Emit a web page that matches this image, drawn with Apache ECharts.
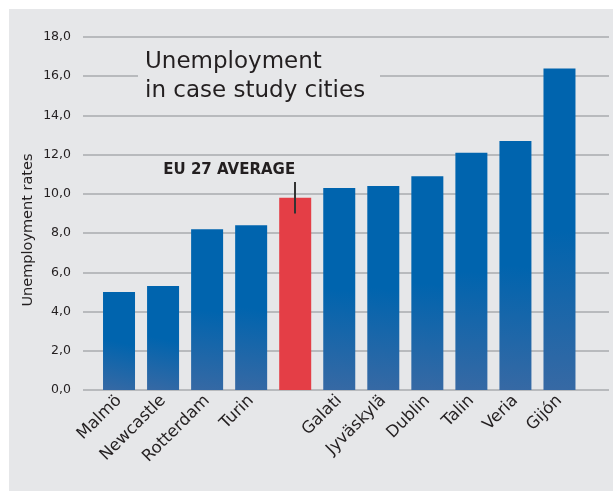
<!DOCTYPE html>
<html>
<head>
<meta charset="utf-8">
<script src="https://cdn.jsdelivr.net/npm/echarts@6/dist/echarts.min.js"></script>
<style>
html,body{margin:0;padding:0;background:#ffffff;}
#c{width:613px;height:491px;}
</style>
</head>
<body>
<div id="c"></div>
<script>
const categories = ['Malmö','Newcastle','Rotterdam','Turin','','Galati','Jyväskylä','Dublin','Talin','Veria','Gijón'];
const values = [5.0, 5.3, 8.2, 8.4, 9.8, 10.3, 10.4, 10.9, 12.1, 12.7, 16.4];
const highlightIndex = 4;
const highlightLabel = 'EU 27 AVERAGE';
const highlightTick = [10.6, 9.0];
const yMin = 0, yMax = 18, yStep = 2;
const titleLines = ['Unemployment', 'in case study cities'];
const yTitle = 'Unemployment rates';

const FONT = '"DejaVu Sans", "Noto Sans", sans-serif';
const TXT = '#231f20';
const BG = '#e6e7e9';

const blueGrad = new echarts.graphic.LinearGradient(0, 1, 0.7, 0, [
  {offset: 0, color: '#3769a4'},
  {offset: 0.5, color: '#0064ae'},
  {offset: 1, color: '#0064ae'}
]);

const chart = echarts.init(document.getElementById('c'), null, {renderer: 'canvas'});
chart.setOption({
  animation: false,
  backgroundColor: '#ffffff',
  graphic: [
    {type: 'rect', z: -10, shape: {x: 9, y: 9, width: 604, height: 482}, style: {fill: BG}},
    {type: 'rect', z: 5, shape: {x: 138, y: 45, width: 242, height: 66}, style: {fill: BG}},
    {type: 'text', z: 6, left: 145, top: 48, style: {text: titleLines.join('\n'), font: '23px ' + FONT, fill: TXT, lineHeight: 29}},
    {type: 'text', z: 6, x: 28, y: 230, rotation: Math.PI / 2, style: {text: yTitle, font: '14.5px ' + FONT, fill: TXT, textAlign: 'center', textVerticalAlign: 'middle'}}
  ],
  grid: [
    {left: 83, right: 4, top: 37, bottom: 101},
    {left: 97, right: 31.5, top: 37, bottom: 101}
  ],
  xAxis: [
    {gridIndex: 0, type: 'category', data: categories, show: false},
    {gridIndex: 1, type: 'category', data: categories, boundaryGap: true,
      axisLine: {show: false}, axisTick: {show: false},
      axisLabel: {interval: 0, rotate: 45, margin: 8, color: TXT, fontFamily: FONT, fontSize: 16.5}}
  ],
  yAxis: [
    {gridIndex: 0, type: 'value', min: yMin, max: yMax, interval: yStep,
      axisLine: {show: false}, axisTick: {show: false},
      axisLabel: {margin: 12, color: TXT, fontFamily: FONT, fontSize: 12.5,
        formatter: v => v.toFixed(1).replace('.', ',')},
      splitLine: {show: true, lineStyle: {color: '#a9abae', width: 1.5}}},
    {gridIndex: 1, type: 'value', min: yMin, max: yMax, interval: yStep, show: false, splitLine: {show: false}}
  ],
  series: [{
    type: 'bar',
    xAxisIndex: 1, yAxisIndex: 1,
    barWidth: 32,
    z: 3,
    data: values.map((v, i) => i === highlightIndex ? {
      value: v,
      itemStyle: {color: '#e43e46'},
      label: {show: true, position: 'top', formatter: highlightLabel, offset: [-66, -15],
        color: TXT, fontFamily: FONT, fontSize: 15, fontWeight: 'bold'}
    } : {value: v}),
    itemStyle: {color: blueGrad},
    markLine: {
      silent: true, symbol: 'none', z: 10,
      label: {show: false},
      lineStyle: {color: '#333333', width: 2, type: 'solid'},
      data: [[{coord: [highlightIndex, highlightTick[0]]}, {coord: [highlightIndex, highlightTick[1]]}]]
    }
  }]
});
</script>
</body>
</html>
